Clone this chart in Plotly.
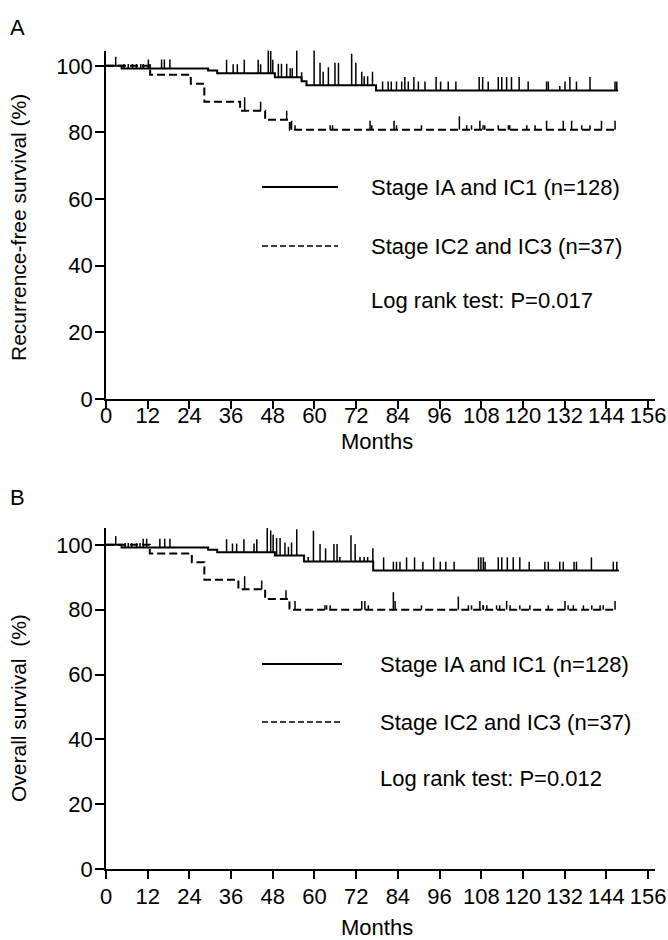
import numpy as np
import plotly.graph_objects as go

W, H = 668, 940

# ---------------- data ----------------
months_ticks = list(range(0, 157, 12))
pct_ticks = [0, 20, 40, 60, 80, 100]

# Panel A: recurrence-free survival
A_early_t = [0, 4.5, 29.4, 32.0, 48.6, 56.3, 57.7, 77.7, 147.4]
A_early_s = [100, 99.2, 98.6, 97.8, 96.6, 95.4, 94.2, 92.6, 92.6]
A_late_t = [0, 12.7, 24.4, 28.3, 38.6, 45.8, 52.9, 146.7]
A_late_s = [100, 97.3, 94.6, 89.2, 86.5, 83.8, 80.8, 80.8]

A_early_cens_t = [2.8, 5.2, 6.4, 7.6, 8.8, 10.0, 10.7, 12.2, 12.7, 16.0, 16.8, 18.4,
                  34.7, 36.6, 37.8, 39.8, 43.8, 44.5, 46.7, 47.4, 48.0,
                  49.6, 50.5, 52.0, 53.0, 53.6, 54.9, 56.3,
                  59.9, 61.6, 62.5, 64.0, 65.9, 66.9, 70.7, 71.9, 73.6, 74.3, 75.3, 76.7,
                  79.6, 81.2, 82.1, 83.6, 85.1, 86.0, 87.0, 88.6, 89.9, 91.8, 95.0, 96.3,
                  98.5, 100.7, 107.4, 108.4, 110.0, 112.9, 113.9, 115.3, 116.7, 118.9,
                  121.5, 126.8, 127.3, 130.6, 132.1, 133.5, 135.4, 139.3, 146.5, 147.0]
A_early_cens_n = [2, 1, 1, 1, 1, 1, 1, 2, 1, 2, 2, 2,
                  3, 2, 2, 3, 3, 2, 6, 5, 3,
                  3, 3, 3, 2, 2, 6, 2,
                  8, 5, 3, 4, 5, 5, 7, 5, 3, 2, 2, 3,
                  2, 2, 2, 2, 2, 3, 2, 3, 2, 2, 3, 2,
                  2, 2, 3, 3, 2, 3, 3, 3, 3, 3,
                  2, 2, 2, 1, 2, 3, 2, 3, 2, 2]
A_late_cens_t = [39.9, 44.5, 52.0, 53.4, 54.4, 64.5, 65.2, 76.0, 76.5, 82.9, 83.6, 90.8,
                 101.7, 103.8, 105.2, 107.6, 108.5, 109.0, 112.9, 115.8, 116.2, 121.1,
                 123.5, 126.8, 131.6, 134.0, 136.9, 139.3, 142.6, 146.5]
A_late_cens_n = [3, 2, 2, 2, 1, 1, 1, 2, 1, 2, 1, 1,
                 3, 1, 1, 2, 1, 1, 1, 1, 1, 1,
                 1, 2, 2, 2, 1, 1, 2, 2]

# Panel B: overall survival
B_early_t = [0, 4.5, 29.4, 32.0, 48.6, 57.0, 76.9, 147.6]
B_early_s = [100, 99.2, 98.5, 97.7, 96.7, 94.9, 92.1, 92.1]
B_late_t = [0, 12.6, 24.7, 28.3, 38.1, 45.8, 52.8, 146.7]
B_late_s = [100, 97.3, 94.6, 89.2, 86.3, 83.3, 80.0, 80.0]

B_early_cens_t = [2.8, 5.5, 6.4, 7.4, 8.8, 9.8, 10.7, 11.7, 15.5, 16.9, 18.4,
                  34.7, 36.4, 37.6, 39.7, 42.6, 43.4, 46.4, 47.4, 48.1,
                  49.1, 50.1, 51.5, 52.5, 53.4, 54.9,
                  58.2, 59.7, 61.6, 63.2, 65.6, 66.5, 67.3, 70.5, 71.7, 73.1, 74.3, 75.3, 76.8,
                  79.9, 82.7, 83.6, 84.6, 86.5, 88.8, 91.2, 94.3, 96.2, 97.8, 100.2,
                  107.2, 107.9, 108.6, 109.1, 112.9, 113.9, 115.5, 117.2, 119.1, 121.8,
                  126.3, 127.3, 130.6, 131.6, 134.7, 135.4, 139.7, 146.0, 147.0]
B_early_cens_n = [2, 1, 1, 1, 1, 1, 2, 2, 2, 2, 2,
                  3, 2, 2, 3, 2, 3, 6, 5, 4,
                  4, 4, 3, 2, 3, 6,
                  1, 7, 4, 3, 4, 4, 1, 6, 4, 1, 1, 1, 3,
                  3, 2, 2, 2, 3, 3, 2, 3, 2, 2, 2,
                  3, 3, 3, 2, 3, 3, 3, 3, 3, 2,
                  2, 2, 2, 2, 2, 2, 3, 2, 2]
B_late_cens_t = [39.9, 44.8, 51.8, 54.4, 63.0, 63.5, 64.5, 73.6, 74.5, 75.5, 82.7, 83.2,
                 90.8, 101.4, 104.3, 105.2, 107.6, 108.5, 108.6, 109.6, 112.4, 113.3,
                 115.3, 116.3, 119.1, 122.0, 127.3, 132.1, 133.0, 134.5, 137.4, 139.8,
                 142.2, 143.1, 146.5]
B_late_cens_n = [3, 2, 2, 2, 1, 1, 1, 2, 2, 1, 4, 2,
                 1, 3, 1, 1, 2, 1, 1, 1, 1, 1,
                 2, 1, 1, 1, 1, 2, 1, 1, 1, 1,
                 1, 1, 2]

label_early = "Stage IA and IC1 (n=128)"
label_late = "Stage IC2 and IC3 (n=37)"
pval_A = "Log rank test: P=0.017"
pval_B = "Log rank test: P=0.012"
ytitle_A = "Recurrence-free survival (%)"
ytitle_B = "Overall survival\u00a0 (%)"
xtitle = "Months"

# ---------------- helpers ----------------
FONT = "Liberation Sans, Arial, sans-serif"
FS = 22
CENS_UNIT = 1.35  # height of one censor mark in % units


def px(x):
    return x / W


def py(y):
    return 1 - y / H


def level_at(tt, ts, ss):
    idx = np.searchsorted(np.array(tt), ts, side="right") - 1
    return np.array(ss)[idx]


def censor_xy(times, counts, ct, cs):
    xs, ys = [], []
    lv = level_at(ct, np.array(times), cs)
    for t, n, l in zip(times, counts, lv):
        xs += [t, t, None]
        ys += [l, l + n * CENS_UNIT, None]
    return xs, ys


fig = go.Figure()

panels = [
    ("x", "y", A_early_t, A_early_s, A_late_t, A_late_s,
     A_early_cens_t, A_early_cens_n, A_late_cens_t, A_late_cens_n),
    ("x2", "y2", B_early_t, B_early_s, B_late_t, B_late_s,
     B_early_cens_t, B_early_cens_n, B_late_cens_t, B_late_cens_n),
]

for xa, ya, et, es, lt, ls, ect, ecn, lct, lcn in panels:
    fig.add_trace(go.Scatter(x=lt, y=ls, xaxis=xa, yaxis=ya, mode="lines",
                             line=dict(color="black", width=2, dash="8px,4px", shape="hv"),
                             showlegend=False, hoverinfo="skip"))
    fig.add_trace(go.Scatter(x=et, y=es, xaxis=xa, yaxis=ya, mode="lines",
                             line=dict(color="black", width=2, shape="hv"),
                             showlegend=False, hoverinfo="skip"))
    cx, cy = censor_xy(ect, ecn, et, es)
    fig.add_trace(go.Scatter(x=cx, y=cy, xaxis=xa, yaxis=ya, mode="lines",
                             line=dict(color="black", width=1.5),
                             showlegend=False, hoverinfo="skip"))
    cx, cy = censor_xy(lct, lcn, lt, ls)
    fig.add_trace(go.Scatter(x=cx, y=cy, xaxis=xa, yaxis=ya, mode="lines",
                             line=dict(color="black", width=1.5),
                             showlegend=False, hoverinfo="skip"))

xdom = [px(106), px(655)]
xcommon = dict(range=[0, 158], tickvals=months_ticks, ticks="outside", ticklen=8,
               tickwidth=1.5, tickcolor="black", showline=True, linecolor="black",
               linewidth=1.5, showgrid=False, zeroline=False, automargin=False,
               tickfont=dict(family=FONT, size=FS, color="black"), domain=xdom)
ycommon = dict(tickvals=pct_ticks, ticks="outside", ticklen=9, tickwidth=1.5,
               tickcolor="black", showline=True, linecolor="black", linewidth=1.5,
               showgrid=False, zeroline=False, ticklabelstandoff=-2, automargin=False,
               tickfont=dict(family=FONT, size=FS, color="black"))

fig.update_layout(
    width=W, height=H, margin=dict(l=0, r=0, t=0, b=0, autoexpand=False),
    paper_bgcolor="white", plot_bgcolor="white",
    font=dict(family=FONT, size=FS, color="black"),
    xaxis=dict(**xcommon, anchor="y", ticklabelstandoff=-12),
    yaxis=dict(**ycommon, range=[0, 104.6], domain=[py(399), py(50.5)], anchor="x"),
    xaxis2=dict(**xcommon, anchor="y2", ticklabelstandoff=-1),
    yaxis2=dict(**ycommon, range=[0, 105.2], domain=[py(869), py(528)], anchor="x2"),
    showlegend=False,
)

ann = []
shapes = []


def text(x, y, s, xanchor="left", angle=0, size=FS):
    ann.append(dict(x=px(x), y=py(y), xref="paper", yref="paper", text=s,
                    showarrow=False, xanchor=xanchor, yanchor="middle",
                    textangle=angle, font=dict(family=FONT, size=size, color="black")))


# panel letters
text(8, 27, "A")
text(8, 497, "B")
# axis titles
text(18, 228, ytitle_A, xanchor="center", angle=-90, size=21)
text(18, 708, ytitle_B, xanchor="center", angle=-90, size=21)
text(377, 441, xtitle, xanchor="center")
text(377, 927, xtitle, xanchor="center")

# legends
for (y1, y2, y3, xl0, xl1, xt, pv) in [(187, 246, 300, 262, 338, 369, pval_A),
                                       (664, 722, 778, 262, 342, 378, pval_B)]:
    shapes.append(dict(type="line", xref="paper", yref="paper", x0=px(xl0), x1=px(xl1),
                       y0=py(y1), y1=py(y1), line=dict(color="black", width=2)))
    shapes.append(dict(type="line", xref="paper", yref="paper", x0=px(xl0), x1=px(xl1),
                       y0=py(y2), y1=py(y2), line=dict(color="black", width=1.5, dash="6px,3px")))
    text(xt, y1, label_early)
    text(xt, y2, label_late)
    text(xt, y3, pv)

fig.update_layout(annotations=ann, shapes=shapes)
fig.write_html("out.html", config={"displayModeBar": False},
               post_script="document.body.style.margin='0';document.body.style.overflow='hidden';")
